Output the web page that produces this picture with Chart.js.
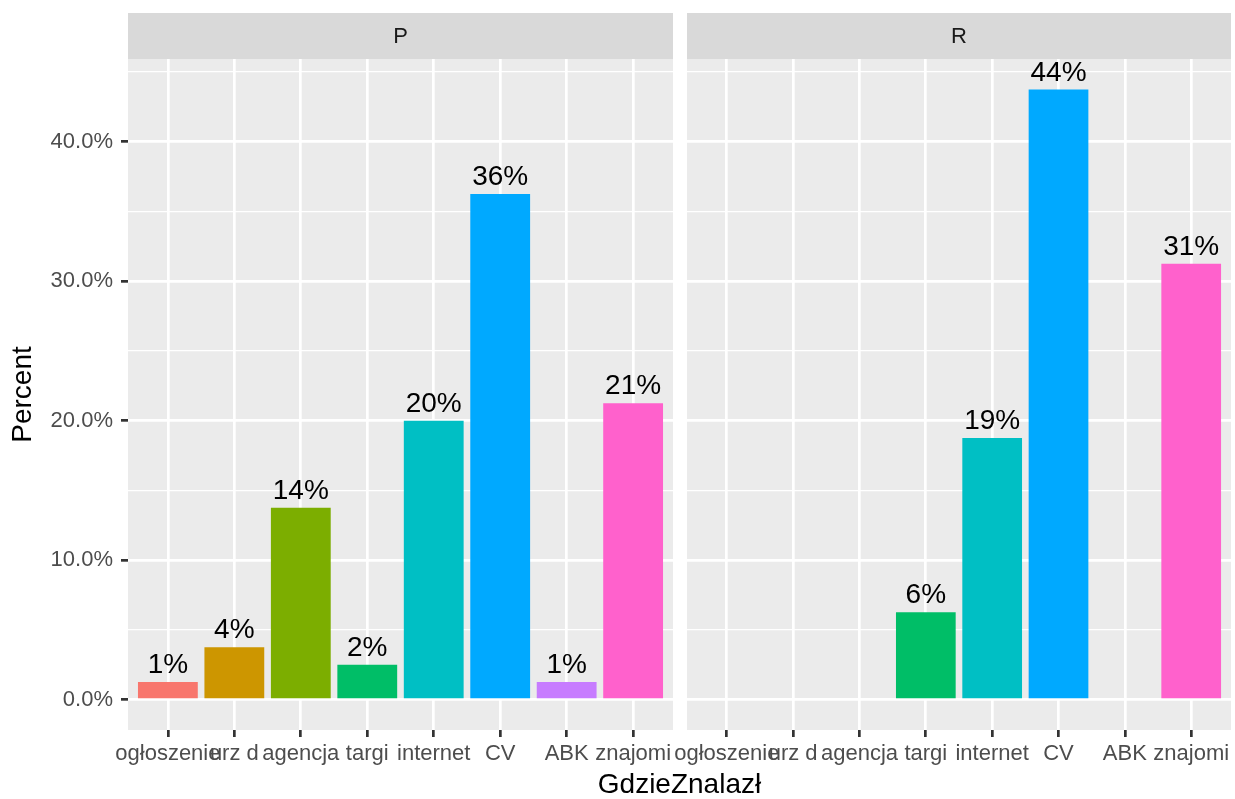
<!DOCTYPE html>
<html>
<head>
<meta charset="utf-8">
<script src="https://cdn.jsdelivr.net/npm/chart.js@4"></script>
<style>
html,body{margin:0;padding:0;background:#ffffff;}
#wrap{position:relative;width:1235px;height:799px;overflow:hidden;background:#ffffff;}
.box{position:absolute;top:0;height:799px;}
#xtitle{position:absolute;left:128px;width:1103px;top:770px;text-align:center;font-family:"Liberation Sans",Arial,sans-serif;font-size:28px;line-height:28px;color:#000000;white-space:nowrap;}
</style>
</head>
<body>
<div id="wrap">
  <div class="box" style="left:0;width:680px"><canvas id="cP" width="680" height="799"></canvas></div>
  <div class="box" style="left:600px;width:635px"><canvas id="cR" width="635" height="799"></canvas></div>
  <div id="xtitle">GdzieZnalazł</div>
</div>
<script>
// ---- data ----
const categories = ['ogłoszenie', 'urz d', 'agencja', 'targi', 'internet', 'CV', 'ABK', 'znajomi'];
const panelNames = ['P', 'R'];
const valuesP = [1.25, 3.75, 13.75, 2.5, 20, 36.25, 1.25, 21.25];
const valuesR = [null, null, null, 6.25, 18.75, 43.75, null, 31.25];
const labelsP = ['1%', '4%', '14%', '2%', '20%', '36%', '1%', '21%'];
const labelsR = [null, null, null, '6%', '19%', '44%', null, '31%'];
const yMajorTicks = [0, 10, 20, 30, 40];
const yMinorTicks = [5, 15, 25, 35, 45];
const barColors = ['#F8766D', '#CD9600', '#7CAE00', '#00BE67', '#00BFC4', '#00A9FF', '#C77CFF', '#FF61CC'];

// ---- axis limits (ggplot-style 5% expansion of data range, 0.6 for discrete) ----
const dataMax = Math.max(...valuesP, ...valuesR.filter(v => v !== null));
const yMin = -0.05 * dataMax;
const yMax = dataMax * 1.05;
const xMin = -0.6;
const xMax = categories.length - 1 + 0.6;

const FAMILY = '"Liberation Sans", Arial, sans-serif';
Chart.defaults.font.family = FAMILY;

const yGridValues = [...yMajorTicks, ...yMinorTicks].sort((a, b) => a - b);
const isMajor = v => yMajorTicks.includes(v);

function panelPlugin(stripText, barLabels) {
  return {
    id: 'panel_' + stripText,
    beforeDraw(chart) {
      const {ctx, chartArea: a} = chart;
      ctx.save();
      ctx.fillStyle = '#EBEBEB';
      ctx.fillRect(a.left, a.top, a.right - a.left, a.bottom - a.top);
      ctx.fillStyle = '#D9D9D9';
      ctx.fillRect(a.left, 13, a.right - a.left, a.top - 13);
      ctx.fillStyle = '#1A1A1A';
      ctx.font = '22px ' + FAMILY;
      ctx.textAlign = 'center';
      ctx.textBaseline = 'middle';
      ctx.fillText(stripText, (a.left + a.right) / 2, (13 + a.top) / 2 + 1);
      ctx.restore();
    },
    afterDatasetsDraw(chart) {
      const {ctx} = chart;
      const meta = chart.getDatasetMeta(0);
      ctx.save();
      ctx.fillStyle = '#000000';
      ctx.font = '28px ' + FAMILY;
      ctx.textAlign = 'center';
      ctx.textBaseline = 'alphabetic';
      meta.data.forEach((el, i) => {
        if (barLabels[i] == null) return;
        ctx.fillText(barLabels[i], el.x, el.y - 9);
      });
      ctx.restore();
    }
  };
}

function makeChart(id, values, barLabels, stripText, showY, yWidth, rightPad) {
  return new Chart(document.getElementById(id), {
    type: 'bar',
    data: {
      datasets: [{
        data: values.map((v, i) => ({x: i, y: v})),
        backgroundColor: barColors,
        borderWidth: 0,
        barPercentage: 0.9,
        categoryPercentage: 1.0
      }]
    },
    options: {
      responsive: false,
      animation: false,
      events: [],
      layout: {padding: {top: 59, right: rightPad, left: 0, bottom: 0}},
      plugins: {legend: {display: false}, tooltip: {enabled: false}},
      scales: {
        x: {
          type: 'linear',
          min: xMin, max: xMax,
          bounds: 'data',
          offset: false,
          afterBuildTicks: s => { s.ticks = categories.map((c, i) => ({value: i})); },
          afterFit: s => { s.height = 69; s.paddingLeft = 0; s.paddingRight = 0; },
          ticks: {
            callback: v => categories[v] !== undefined ? categories[v] : '',
            color: '#4D4D4D', font: {size: 22}, padding: 4,
            autoSkip: false, maxRotation: 0, minRotation: 0
          },
          grid: {color: '#FFFFFF', lineWidth: 2.7, offset: false, tickLength: 7, tickColor: '#333333', tickWidth: 2.7},
          border: {display: false}
        },
        y: {
          type: 'linear',
          min: yMin, max: yMax,
          bounds: 'data',
          afterBuildTicks: s => { s.ticks = yGridValues.map(v => ({value: v})); },
          afterFit: s => { s.width = yWidth; },
          ticks: {
            display: showY,
            callback: v => isMajor(v) ? v.toFixed(1) + '%' : '',
            color: '#4D4D4D', font: {size: 22}, padding: 8
          },
          grid: {
            color: '#FFFFFF',
            lineWidth: c => (c.tick && isMajor(c.tick.value)) ? 2.7 : 1.35,
            drawTicks: showY,
            tickLength: 7,
            tickColor: c => (c.tick && isMajor(c.tick.value)) ? '#333333' : 'rgba(0,0,0,0)',
            tickWidth: 2.7
          },
          border: {display: false},
          title: {display: showY, text: 'Percent', color: '#000000', font: {size: 28}, padding: {top: 6, bottom: 0}}
        }
      }
    },
    plugins: [panelPlugin(stripText, barLabels)]
  });
}

makeChart('cP', valuesP, labelsP, panelNames[0], true, 128, 7);
makeChart('cR', valuesR, labelsR, panelNames[1], false, 87, 4);
</script>
</body>
</html>
